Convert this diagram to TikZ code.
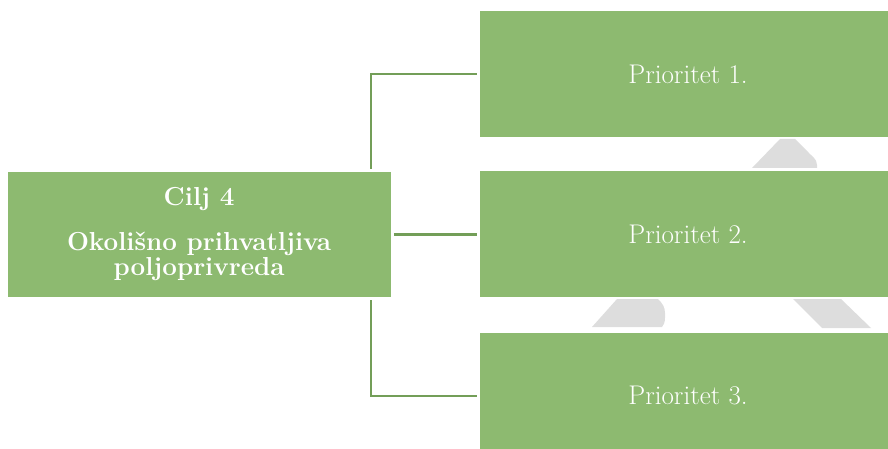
\documentclass[tikz,border=0pt]{standalone}
\usepackage{tikz}
\usetikzlibrary{positioning, calc}
\usepackage{xcolor}
\definecolor{boxgreen}{HTML}{8DBA70}
\definecolor{linegreen}{HTML}{739E58}
\definecolor{wedgegray}{HTML}{DDDDDD}

\begin{document}
\begin{tikzpicture}[x=1pt, y=-1pt,
        box/.style={rectangle, fill=boxgreen, inner sep=0pt, text=white, font=\fontsize{27}{27}\selectfont},
        prio/.style={box, minimum width=416pt, minimum height=126pt},
        link/.style={draw=linegreen, line width=2.5pt, shorten <=3pt, shorten >=3pt}]
        \useasboundingbox (0, 0) rectangle (888, 449);
        \clip (0, 0) rectangle (888, 449);

        \node[prio] (p1) at (688, 74) {Prioritet 1.};
        \node[prio, below=34pt of p1] (p2) {Prioritet 2.};
        \node[prio, below=35pt of p2] (p3) {Prioritet 3.};

        \node[box, minimum width=383pt, minimum height=125pt, align=center, left=89pt of p2,
              font=\bfseries\fontsize{26}{25}\selectfont] (goal) {Cilj 4\\[20pt] Okolišno prihvatljiva\\ poljoprivreda};

        \draw[link] ([xshift=-20pt]goal.north east) |- (p1.west);
        \draw[link] (goal.east) -- (p2.west);
        \draw[link] ([xshift=-20pt]goal.south east) |- (p3.west);

        % grey wedges between the boxes
        \fill[wedgegray] (752, 168) -- (780, 139) -- (795, 139) -- (807, 151) to[out=-50, in=90] (817, 165) -- (817, 168) -- cycle;
        \fill[wedgegray] (592, 327) -- (617, 299) -- (658, 299) to[out=-45, in=90] (665, 313) to[out=-90, in=50] (662, 327) -- cycle;
        \fill[wedgegray] (793, 299) -- (841, 299) -- (871, 328) -- (822, 328) -- cycle;
\end{tikzpicture}
\end{document}
